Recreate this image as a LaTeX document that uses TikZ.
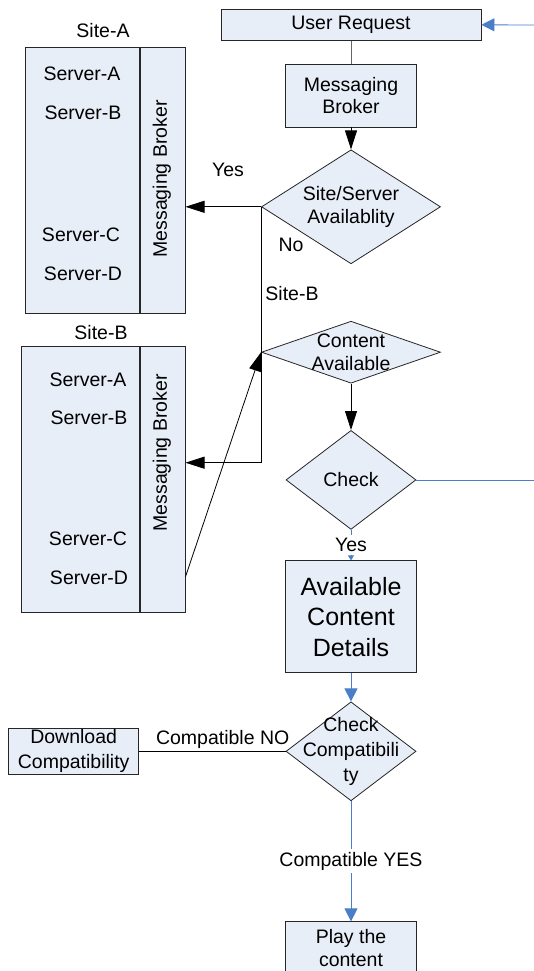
\documentclass[tikz,border=0pt]{standalone}
\usepackage{fontspec}
\setmainfont{Liberation Sans}
\usetikzlibrary{arrows.meta,positioning,shapes.geometric}
\definecolor{boxfill}{HTML}{E8EEF8}
\definecolor{flowblue}{HTML}{4A7EC6}

\begin{document}
\begin{tikzpicture}[x=1pt,y=-1pt,->,>={Triangle[length=19pt,width=12pt]},line width=0.8pt,
	font=\fontsize{19.5}{22.5}\selectfont,
	box/.style={draw=black!85,fill=boxfill,align=center,inner sep=0pt},
	dia/.style={diamond,draw=black!85,fill=boxfill,inner sep=0pt},
	blueline/.style={draw=flowblue},
	bluehead/.style={-{Triangle[length=13pt,width=13pt]},flowblue},
	lbl/.style={fill=white,text=black,inner sep=3pt}]

	\useasboundingbox (0,0) rectangle (534,971);

	\node[box,minimum width=260pt,minimum height=31pt] (request) at (351,24.8) {User Request};
	\node[box,minimum width=130.7pt,minimum height=62.7pt] (broker) [below=23.2pt of request] {Messaging\\Broker};
	\node[dia,minimum width=179pt,minimum height=114pt,label={[align=center]center:Site/Server\\Availablity}] (avail) [below=22pt of broker] {};
	\node[dia,minimum width=179pt,minimum height=62pt,label={[align=center]center:Content\\Available}] (content) [below=56.6pt of avail] {};
	\node[dia,minimum width=130pt,minimum height=99pt,label=center:Check] (check) [below=46.4pt of content] {};
	\node[box,minimum width=130.7pt,minimum height=111.6pt,font=\fontsize{25}{30.5}\selectfont] (details) [below=30.6pt of check] {Available\\Content\\Details};
	\node[dia,minimum width=130pt,minimum height=99pt,label={[align=center,font=\fontsize{19.5}{25}\selectfont]center:Check\\Compatibili\\ty}] (compat) [below=28.6pt of details] {};
	\node[box,minimum width=130.7pt,minimum height=52pt] (play) [below=120.2pt of compat] {Play the\\content};
	\node[box,minimum width=130.3pt,minimum height=45.7pt,font=\fontsize{19.5}{25}\selectfont] (download) [left=146.4pt of compat] {Download\\Compatibility};

	\node[box,minimum width=114.3pt,minimum height=265.6pt] (siteA) at (82.15,180.5) {};
	\node[box,minimum width=45pt,minimum height=265.6pt,anchor=west] (brokerA) at (siteA.east) {};
	\node (siteAlbl) at (103,31) {Site-A};
	\node (serverAa) at (82,74) {Server-A};
	\node (serverAb) at (83,113) {Server-B};
	\node (serverAc) at (81,235) {Server-C};
	\node (serverAd) at (83,274) {Server-D};
	\node[rotate=90] (msgA) at (161.8,179) {Messaging Broker};

	\node[box,minimum width=117.6pt,minimum height=265.6pt] (siteB) at (80.5,479.5) {};
	\node[box,minimum width=45pt,minimum height=265.6pt,anchor=west] (brokerB) at (siteB.east) {};
	\node (siteBlbl) at (101,333) {Site-B};
	\node (serverBa) at (88,380) {Server-A};
	\node (serverBb) at (89,418) {Server-B};
	\node (serverBc) at (88,539) {Server-C};
	\node (serverBd) at (89,578) {Server-D};
	\node[rotate=90] (msgB) at (161.8,453) {Messaging Broker};

	\node (yes) at (228,170) {Yes};
	\node (no) at (291,245) {No};
	\node (toB) at (292,294) {Site-B};

	\coordinate (entry) at (534,25);
	\coordinate (exit) at (534,479.5);

	\draw[blueline,bluehead] (entry) -- (request.east);
	\draw[-,black!60] (request) -- (broker);
	\draw (broker) -- (avail);
	\draw (avail.west) -- (avail.west -| brokerA.east);
	\draw (avail.west) |- ([yshift=16.8pt]brokerB.east);
	\draw ([yshift=-97.2pt]brokerB.east) -- (content.west);
	\draw (content) -- (check);
	\draw[-,blueline] (check.east) -- (check.east -| exit);
	\draw[blueline,-{Triangle[length=5pt,width=6pt]},flowblue] (check) -- node[lbl] {Yes} (details);
	\draw[blueline,bluehead] (details) -- (compat);
	\draw[-] (compat.west) -- node[pos=0.43,above,inner sep=2pt] {Compatible NO} (download.east);
	\draw[blueline,bluehead] (compat) -- node[lbl] {Compatible YES} (play);

\end{tikzpicture}
\end{document}
